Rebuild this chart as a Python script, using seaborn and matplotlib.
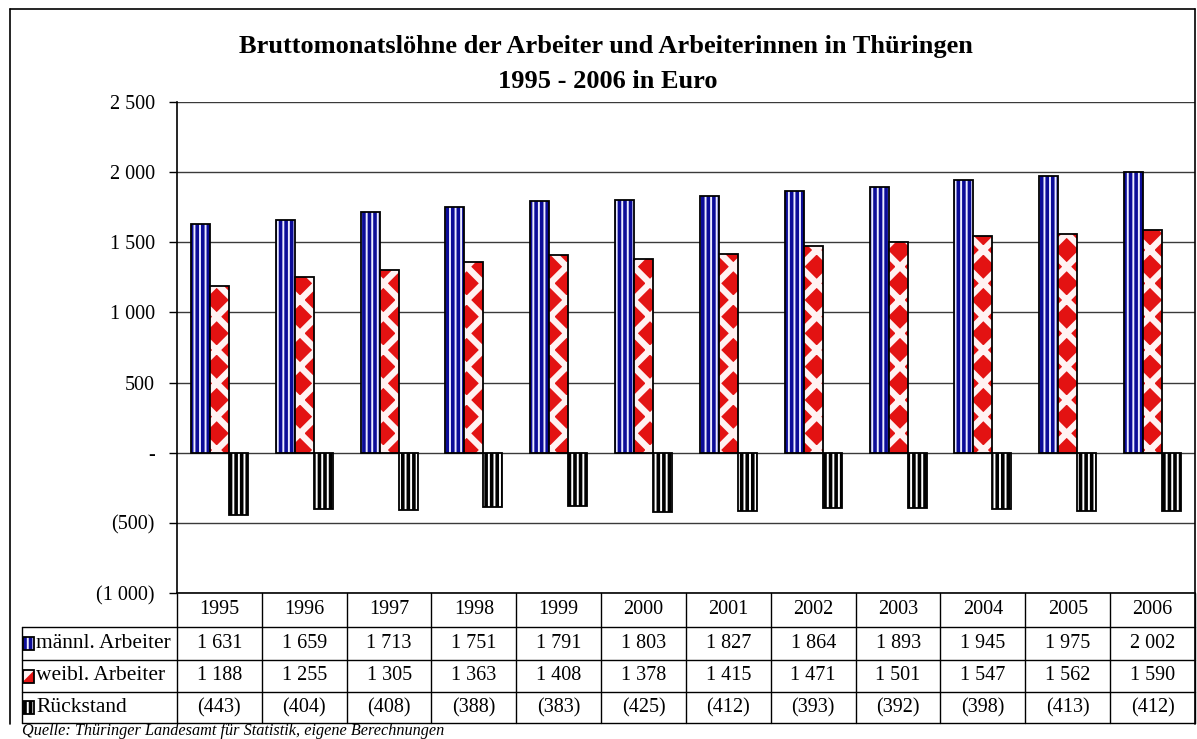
import seaborn as sns
import matplotlib.pyplot as plt
import matplotlib.transforms as mtransforms
from matplotlib.patches import Rectangle
from matplotlib.lines import Line2D
import pandas as pd

# Daten
# ------------------------------------------------------------------------------
jahre = ["1995", "1996", "1997", "1998", "1999", "2000",
         "2001", "2002", "2003", "2004", "2005", "2006"]
maennl = [1631, 1659, 1713, 1751, 1791, 1803, 1827, 1864, 1893, 1945, 1975, 2002]
weibl = [1188, 1255, 1305, 1363, 1408, 1378, 1415, 1471, 1501, 1547, 1562, 1590]
rueckstand = [-443, -404, -408, -388, -383, -425, -412, -393, -392, -398, -413, -412]
reihen = ["männl. Arbeiter", "weibl. Arbeiter", "Rückstand"]
y_ticks = [-1000, -500, 0, 500, 1000, 1500, 2000, 2500]

titel = ["Bruttomonatslöhne der Arbeiter und Arbeiterinnen in Thüringen",
         "1995 - 2006 in Euro"]
quelle = "Quelle: Thüringer Landesamt für Statistik, eigene Berechnungen"

# (face, hatch-farbe, hatch, hatch-linienbreite)
stile = {
    "männl. Arbeiter": ("#ececff", "#0c0c98", "|||", 2.6),
    "weibl. Arbeiter": ("#e31212", "#fff2f2", "x", 4.6),
    "Rückstand": ("#ffffff", "#000000", "|||", 2.6),
}


def zahl(v):
    """Excel-Format: Tausender mit Leerzeichen, negative Werte in Klammern."""
    if v == 0:
        return "-"
    s = f"{abs(v):,}".replace(",", " ")
    return f"({s})" if v < 0 else s


def muster_rechteck(ax, x, y, w, h, reihe, **kw):
    face, hcol, hatch, hlw = stile[reihe]
    ax.add_patch(Rectangle((x, y), w, h, facecolor=face, edgecolor="none", lw=0, **kw))
    with plt.rc_context({"hatch.linewidth": hlw}):
        p = Rectangle((x, y), w, h, facecolor="none", edgecolor=hcol, hatch=hatch, lw=0, **kw)
    if hasattr(p, "set_hatch_linewidth"):
        p.set_hatch_linewidth(hlw)
    ax.add_patch(p)
    ax.add_patch(Rectangle((x, y), w, h, facecolor="none", edgecolor="black", lw=1.3, **kw))


df = pd.DataFrame({
    "Jahr": jahre * 3,
    "Reihe": [r for r in reihen for _ in jahre],
    "Wert": maennl + weibl + rueckstand,
})

sns.set_theme(style="white")
plt.rcParams["font.family"] = ["Liberation Serif", "DejaVu Serif"]
plt.rcParams["text.color"] = "black"
plt.rcParams["ytick.color"] = "black"

W, H = 1197, 739
fig = plt.figure(figsize=(W / 100, H / 100), dpi=100)
ax = fig.add_axes([177 / W, 1 - 593 / H, (1195 - 177) / W, (593 - 102) / H])

sns.barplot(data=df, x="Jahr", y="Wert", hue="Reihe", hue_order=reihen, order=jahre,
            width=0.67, saturation=1, legend=False, ax=ax)

# Balken mit Excel-Mustern überzeichnen
for reihe, cont in zip(reihen, ax.containers):
    for p in cont:
        p.set_visible(False)
        muster_rechteck(ax, p.get_x(), p.get_y(), p.get_width(), p.get_height(), reihe, zorder=3)

ax.set_ylim(-1000, 2500)
ax.set_xlim(-0.5, len(jahre) - 0.5)
ax.set_yticks(y_ticks)
ax.set_yticklabels([zahl(v) for v in y_ticks])
ax.set_xticks([])
ax.set_xlabel("")
ax.set_ylabel("")
ax.yaxis.grid(True, color="#3a3a3a", lw=1)
ax.set_axisbelow(True)
ax.tick_params(axis="y", direction="out", length=6, width=1, color="black",
               labelcolor="black", labelsize=14.5, pad=10, left=True)
for s in ["top", "right"]:
    ax.spines[s].set_visible(False)
for s in ["left", "bottom"]:
    ax.spines[s].set_color("black")
    ax.spines[s].set_linewidth(1.2)

# Datentabelle unter der Achse
# ------------------------------------------------------------------------------
px = 593 - 102
zeilen = [0, -(627 - 593) / px, -(660 - 593) / px, -(692 - 593) / px, -(723 - 593) / px]
links = (22 - 177) / (1195 - 177)
trans = mtransforms.blended_transform_factory(ax.transData, ax.transAxes)

for i in range(len(jahre) + 1):
    ax.add_line(Line2D([i - 0.5, i - 0.5], [zeilen[0], zeilen[-1]], transform=trans,
                       color="black", lw=1, clip_on=False))
for y in zeilen[1:]:
    ax.add_line(Line2D([links, 1], [y, y], transform=ax.transAxes,
                       color="black", lw=1, clip_on=False))
ax.add_line(Line2D([links, links], [zeilen[1], zeilen[-1]], transform=ax.transAxes,
                   color="black", lw=1, clip_on=False))

mitte = [(zeilen[k] + zeilen[k + 1]) / 2 for k in range(4)]
for i, j in enumerate(jahre):
    ax.text(i, mitte[0], j, transform=trans, ha="center", va="center", fontsize=14.5)
for k, (reihe, werte) in enumerate(zip(reihen, [maennl, weibl, rueckstand])):
    for i, v in enumerate(werte):
        ax.text(i, mitte[k + 1], zahl(v), transform=trans, ha="center", va="center",
                fontsize=14.5)
    iw, ih = 11 / 1018, 13 / px
    muster_rechteck(ax, links + 1 / 1018, mitte[k + 1] - ih / 2, iw, ih, reihe,
                    transform=ax.transAxes, clip_on=False)
    ax.text(links + 14 / 1018, mitte[k + 1], reihe, transform=ax.transAxes,
            ha="left", va="center", fontsize=15.5)

# Titel, Rahmen, Quelle
# ------------------------------------------------------------------------------
fig.text(606 / W, 1 - 47 / H, titel[0], ha="center", va="center",
         fontsize=19, fontweight="bold")
fig.text(608 / W, 1 - 82 / H, titel[1], ha="center", va="center",
         fontsize=19, fontweight="bold")

for xs, ys in [([10, 10], [9, 724]), ([10, 1195], [9, 9]), ([1195, 1195], [9, 724])]:
    fig.add_artist(Line2D([x / W for x in xs], [1 - y / H for y in ys],
                          transform=fig.transFigure, color="black", lw=1.2))

fig.text(22 / W, 1 - 731 / H, quelle, ha="left", va="center",
         fontsize=11.7, fontstyle="italic")

fig.savefig("out.png", dpi=100)
